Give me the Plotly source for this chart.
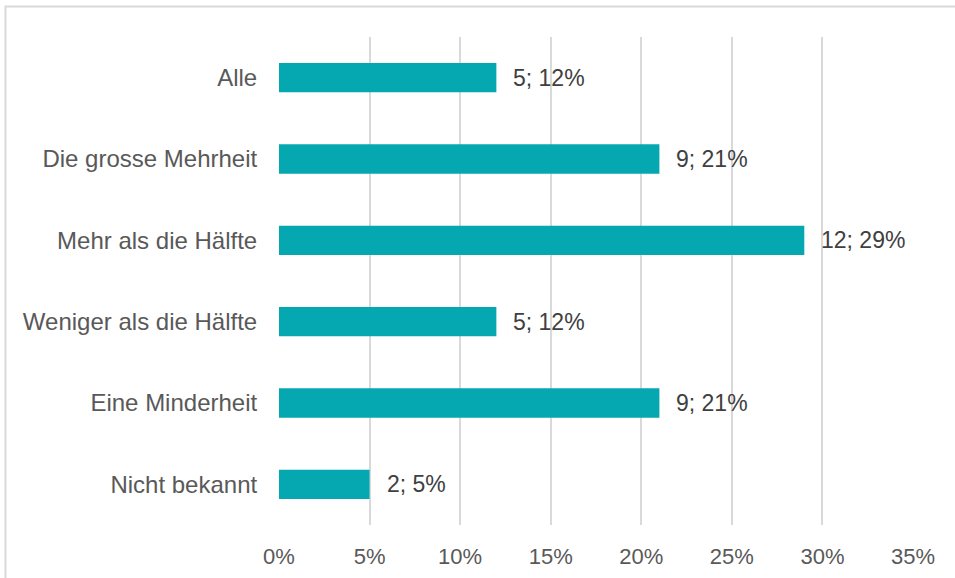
import plotly.graph_objects as go

categories = ["Alle", "Die grosse Mehrheit", "Mehr als die Hälfte",
              "Weniger als die Hälfte", "Eine Minderheit", "Nicht bekannt"]
counts = [5, 9, 12, 5, 9, 2]
percents = [12, 21, 29, 12, 21, 5]
x_ticks = [0, 5, 10, 15, 20, 25, 30, 35]
x_tick_labels = ["0%", "5%", "10%", "15%", "20%", "25%", "30%", "35%"]

W, H = 955, 578
ml, mr, mt, mb = 279, 42, 37, 53
pw, ph = W - ml - mr, H - mt - mb
FONT = "Liberation Sans, Arial"

fig = go.Figure()
fig.add_trace(go.Bar(
    x=percents, y=categories, orientation="h",
    marker=dict(color="#05A8B0", line=dict(width=0)),
    width=0.36, hoverinfo="skip",
))

for c, n, p in zip(categories, counts, percents):
    fig.add_annotation(x=p, y=c, text=f"{n}; {p}%", showarrow=False,
                       xanchor="left", yanchor="middle", xshift=15,
                       font=dict(family=FONT, size=23, color="#404040"))

# outer chart border (only top and left edges visible in the window)
fig.add_shape(type="rect", xref="paper", yref="paper",
              x0=(5.5 - ml) / pw, x1=(970 - ml) / pw,
              y0=-(595 - (H - mb)) / ph, y1=1 + (mt - 6.5) / ph,
              line=dict(color="#D9D9D9", width=2), fillcolor="rgba(0,0,0,0)", layer="below")

fig.update_layout(
    width=W, height=H,
    margin=dict(l=ml, r=mr, t=mt, b=mb),
    paper_bgcolor="white", plot_bgcolor="white",
    showlegend=False,
    font=dict(family=FONT, size=22, color="#595959"),
    xaxis=dict(range=[0, 35], tickvals=x_ticks, ticktext=x_tick_labels,
               showgrid=True, gridcolor="#D9D9D9", gridwidth=1.5,
               zeroline=False, showline=False, ticks="outside", ticklen=12,
               tickcolor="rgba(0,0,0,0)", fixedrange=True, automargin=False,
               tickfont=dict(family=FONT, size=22, color="#595959")),
    yaxis=dict(autorange="reversed", showgrid=False, zeroline=False,
               showline=False, ticks="outside", ticklen=16, automargin=False,
               tickcolor="rgba(0,0,0,0)", fixedrange=True,
               tickfont=dict(family=FONT, size=24, color="#595959")),
)

fig.write_html("out.html", config={"displayModeBar": False},
               post_script="document.body.style.margin='0';document.body.style.overflow='hidden';")
